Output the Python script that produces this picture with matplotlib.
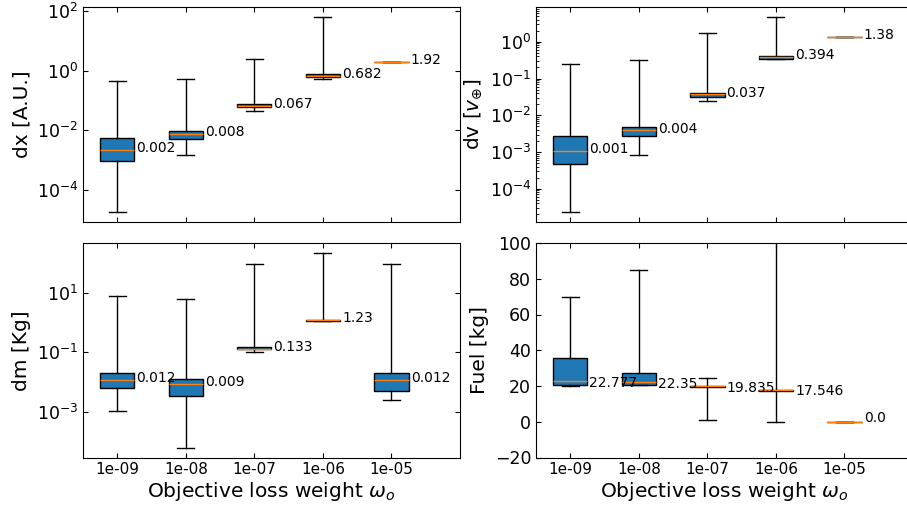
import matplotlib
matplotlib.use("Agg")
import matplotlib.pyplot as plt

# Objective loss weights (x categories)
weights = ["1e-09", "1e-08", "1e-07", "1e-06", "1e-05"]

# dx [A.U.]
dx_low = [1.8e-5, 1.45e-3, 0.044, 0.55, 1.92]
dx_q1 = [9.5e-4, 5.0e-3, 0.061, 0.60, 1.92]
dx_med = [2.2e-3, 7.6e-3, 0.067, 0.682, 1.92]
dx_q3 = [5.5e-3, 9.5e-3, 0.076, 0.76, 1.92]
dx_high = [0.46, 0.54, 2.5, 65.0, 1.92]
dx_labels = ["0.002", "0.008", "0.067", "0.682", "1.92"]

# dv [v_earth]
dv_low = [2.3e-5, 8.3e-4, 0.0245, 0.34, 1.38]
dv_q1 = [4.6e-4, 2.7e-3, 0.032, 0.34, 1.38]
dv_med = [1.1e-3, 4.0e-3, 0.037, 0.394, 1.38]
dv_q3 = [2.8e-3, 4.8e-3, 0.040, 0.40, 1.38]
dv_high = [0.245, 0.31, 1.73, 4.8, 1.38]
dv_labels = ["0.001", "0.004", "0.037", "0.394", "1.38"]

# dm [Kg]
dm_low = [1.05e-3, 6.2e-5, 0.10, 1.15, 2.4e-3]
dm_q1 = [6.5e-3, 3.5e-3, 0.126, 1.15, 5.1e-3]
dm_med = [0.012, 0.0085, 0.133, 1.23, 0.012]
dm_q3 = [0.0195, 0.0129, 0.153, 1.25, 0.0204]
dm_high = [7.9, 6.3, 92.0, 219.0, 94.0]
dm_labels = ["0.012", "0.009", "0.133", "1.23", "0.012"]

# Fuel [kg]
fuel_low = [20.1, 20.3, 1.0, 0.0, 0.0]
fuel_q1 = [20.7, 20.7, 19.5, 17.2, 0.0]
fuel_med = [22.777, 22.35, 19.835, 17.546, 0.0]
fuel_q3 = [35.7, 27.2, 20.2, 17.9, 0.0]
fuel_high = [70.0, 85.0, 24.2, 150.0, 0.0]
fuel_labels = ["22.777", "22.35", "19.835", "17.546", "0.0"]


def _stats(low, q1, med, q3, high):
    return [
        {"whislo": a, "q1": b, "med": c, "q3": d, "whishi": e, "fliers": []}
        for a, b, c, d, e in zip(low, q1, med, q3, high)
    ]


W, H = 907, 508
fig = plt.figure(figsize=(W / 100, H / 100), dpi=100)

# axes rectangles in pixels: (left, top, right, bottom)
rects = {
    "dx": (83, 7, 460, 222),
    "dv": (536, 7, 913, 222),
    "dm": (83, 243, 460, 457.5),
    "fuel": (536, 243, 913, 457.5),
}


def _axes(key):
    l, t, r, b = rects[key]
    return fig.add_axes([l / W, 1 - b / H, (r - l) / W, (b - t) / H])


panels = [
    ("dx", dx_low, dx_q1, dx_med, dx_q3, dx_high, dx_labels, "dx [A.U.]", True),
    ("dv", dv_low, dv_q1, dv_med, dv_q3, dv_high, dv_labels, r"dv [$v_{\oplus}$]", True),
    ("dm", dm_low, dm_q1, dm_med, dm_q3, dm_high, dm_labels, "dm [Kg]", True),
    ("fuel", fuel_low, fuel_q1, fuel_med, fuel_q3, fuel_high, fuel_labels, "Fuel [kg]", False),
]

positions = list(range(1, len(weights) + 1))

for key, low, q1, med, q3, high, labels, ylabel, logy in panels:
    ax = _axes(key)
    ax.bxp(
        _stats(low, q1, med, q3, high),
        positions=positions,
        widths=0.5,
        showfliers=False,
        patch_artist=True,
        boxprops={"facecolor": "#1f77b4", "edgecolor": "black"},
        medianprops={"color": "#ff7f0e"},
    )
    if logy:
        ax.set_yscale("log")
    else:
        ax.set_ylim(-20, 100)

    # median value next to each box
    for p, m, lbl in zip(positions, med, labels):
        ax.text(p + 0.28, m * 0.85, lbl, ha="left", fontsize=10)

    ax.set_xlim(0.5, 6.0)
    ax.set_xticks(positions)
    ax.set_xticklabels(weights, fontsize=11)
    ax.tick_params(which="both", direction="in", top=True, right=True)
    ax.tick_params(axis="y", labelsize=12.5)
    ax.set_ylabel(ylabel, fontsize=14.5)
    if key in ("dx", "dv"):
        ax.tick_params(labelbottom=False)
    else:
        ax.set_xlabel(r"Objective loss weight $\omega_o$", fontsize=14.5, labelpad=2)

fig.savefig("out.png", dpi=100, facecolor="white")
plt.close(fig)
